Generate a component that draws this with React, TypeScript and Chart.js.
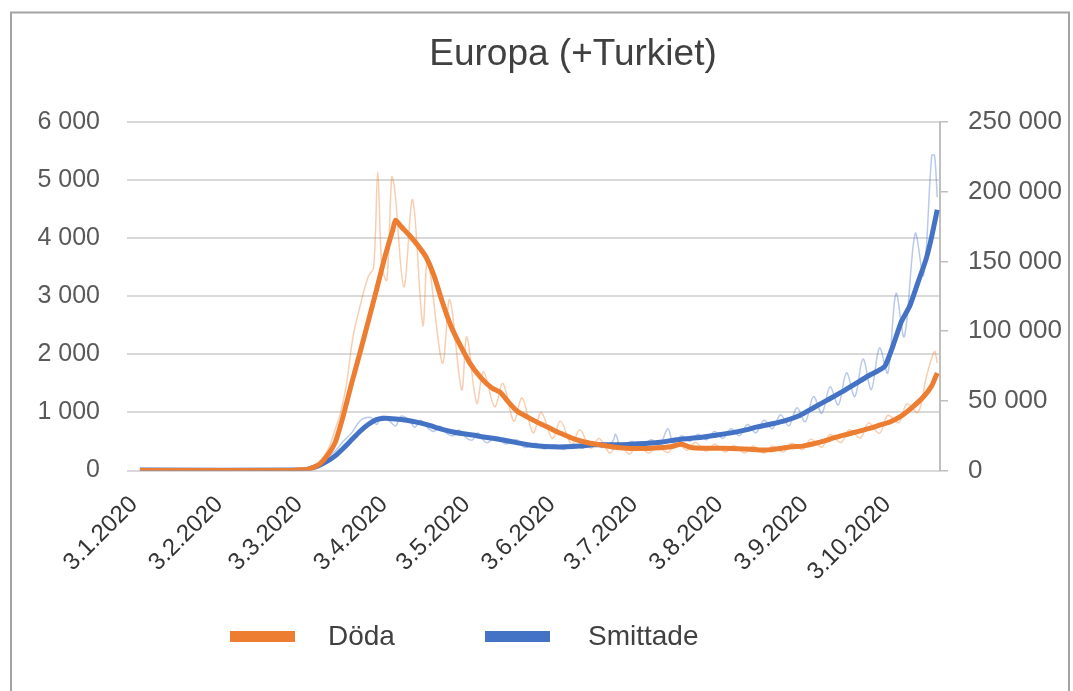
import React, { useEffect, useRef } from 'react';
import { Chart, registerables } from 'chart.js';

Chart.register(...registerables);

// x positions are day offsets counted from 3.1.2020
const tickDays = [0, 31, 60, 91, 121, 152, 182, 213, 244, 274];
const tickLabels = ['3.1.2020', '3.2.2020', '3.3.2020', '3.4.2020', '3.5.2020', '3.6.2020', '3.7.2020', '3.8.2020', '3.9.2020', '3.10.2020'];
const leftTickLabels = ['0', '1 000', '2 000', '3 000', '4 000', '5 000', '6 000'];
const rightTickLabels = ['0', '50 000', '100 000', '150 000', '200 000', '250 000'];

const title = 'Europa (+Turkiet)';
const legendLabels = ['Döda', 'Smittade'];

// Döda – 7-day average (left axis)
const deathsAvgDays = [0, 55, 58, 61, 65, 68, 71, 74, 77, 80, 83, 86, 89, 92, 93, 95, 98, 101, 104, 107, 110, 113, 116, 120, 124, 128, 131, 134, 137, 141, 145, 149, 153, 157, 161, 165, 169, 173, 177, 181, 185, 189, 193, 197, 199, 201, 205, 210, 215, 220, 225, 229, 233, 237, 241, 245, 249, 253, 257, 261, 265, 269, 273, 277, 281, 285, 288, 290];
const deathsAvg = [0, 0, 10, 20, 100, 250, 480, 950, 1500, 2020, 2560, 3100, 3660, 4150, 4310, 4200, 4050, 3880, 3680, 3350, 2900, 2500, 2200, 1850, 1600, 1420, 1350, 1180, 1030, 920, 820, 730, 640, 560, 500, 460, 430, 400, 385, 380, 380, 390, 410, 450, 420, 390, 385, 385, 380, 370, 355, 355, 380, 410, 420, 460, 510, 570, 620, 670, 720, 780, 840, 940, 1090, 1270, 1460, 1680];

// Döda – daily (left axis)
const deathsDailyDays = [0, 58, 62, 65, 67, 69, 71, 73, 75, 77.5, 80, 83, 85, 86.5, 88, 89.8, 91.6, 92.7, 96, 99.2, 102.9, 104.7, 110, 112.7, 117, 118.9, 122.5, 125, 129, 132, 136, 139, 143, 146, 150, 153, 157, 160, 164, 167, 171, 174, 178, 181, 185, 188, 192, 195, 199, 202, 206, 209, 213, 216, 220, 223, 227, 230, 234, 237, 241, 244, 248, 251, 255, 258, 262, 265, 269, 272, 276, 279, 283, 286, 289, 290];
const deathsDaily = [0, 0, 40, 130, 250, 420, 700, 1000, 1450, 2300, 2820, 3330, 3500, 5140, 3500, 3280, 5050, 4830, 3160, 4660, 2500, 3620, 1850, 2940, 1390, 2300, 1160, 1700, 1100, 1500, 850, 1250, 650, 1000, 550, 850, 450, 700, 380, 550, 300, 480, 280, 450, 300, 420, 310, 480, 350, 480, 330, 450, 320, 430, 300, 420, 300, 420, 320, 470, 360, 540, 400, 620, 480, 700, 560, 820, 640, 950, 820, 1150, 1000, 1600, 2050, 1850];

// Smittade – 7-day average (right axis)
const casesAvgDays = [0, 60, 62, 65, 68, 71, 74, 77, 80, 83, 86, 89, 93, 97, 101, 105, 109, 113, 117, 121, 125, 129, 133, 137, 141, 145, 150, 155, 160, 165, 170, 175, 180, 185, 190, 195, 200, 205, 210, 215, 220, 225, 230, 235, 240, 245, 250, 255, 260, 265, 268, 271, 274, 277, 280, 283, 286, 288, 290];
const casesAvg = [300, 300, 1500, 3500, 6500, 10500, 16000, 22000, 28000, 33000, 36500, 37500, 37000, 36000, 34500, 32500, 30000, 28000, 26500, 25500, 24000, 23000, 21500, 20000, 18500, 17500, 17000, 17000, 17500, 18500, 18500, 18500, 19000, 19500, 20500, 22000, 23000, 24000, 25500, 27000, 29000, 31500, 33500, 36000, 39500, 45000, 50500, 56000, 62000, 68000, 71000, 75000, 90000, 107000, 118000, 135000, 152000, 168000, 187000];

// Smittade – daily (right axis)
const casesDailyDays = [0, 60, 62, 65, 68, 71, 74, 77, 79, 81, 84, 86, 88, 91, 93, 95, 98, 100, 102, 105, 107, 109, 112, 114, 116, 119, 121, 123, 126, 130, 133, 137, 140, 144, 147, 151, 154, 158, 161, 165, 168, 172, 173, 175, 179, 182, 186, 189, 192, 194, 197, 200, 203, 206, 209, 212, 215, 218, 221, 224, 227, 230, 233, 236, 239, 242, 245, 248, 251, 254, 257, 260, 263, 266, 269, 272, 275, 278, 282, 285, 288, 289, 290];
const casesDaily = [300, 300, 2000, 5000, 9000, 14000, 21000, 27000, 33000, 37000, 38000, 33000, 39000, 35000, 32000, 39000, 36000, 31000, 36000, 30000, 28000, 32000, 26000, 25000, 29000, 23000, 22000, 27000, 20000, 24000, 19000, 22000, 16500, 19500, 15500, 18500, 15000, 19000, 16000, 20000, 16500, 21000, 26000, 17000, 21000, 17000, 22000, 18000, 30000, 20000, 25000, 21000, 26000, 22000, 28000, 23000, 30000, 25000, 33000, 27000, 36000, 30000, 40000, 32000, 45000, 35000, 53000, 41000, 60000, 47000, 70000, 53000, 80000, 58000, 88000, 70000, 127000, 96000, 170000, 140000, 226000, 226000, 196000];

const ORANGE = '#ED7D31';
const BLUE = '#4472C4';
const FONT = "'Liberation Sans', Arial, sans-serif";

const toPoints = (days: number[], vals: number[]) => days.map((d, i) => ({ x: d, y: vals[i] }));

const decorPlugin = {
  id: 'decor',
  beforeDraw(chart: any) {
    const ctx = chart.ctx;
    ctx.save();
    ctx.fillStyle = '#ffffff';
    ctx.fillRect(0, 0, chart.width, chart.height);
    ctx.restore();
  },
  afterDraw(chart: any) {
    const ctx = chart.ctx;
    ctx.save();
    // outer frame
    ctx.strokeStyle = '#a3a3a3';
    ctx.lineWidth = 2;
    ctx.strokeRect(11, 12.5, 1058, 720);
    // title
    ctx.fillStyle = '#404040';
    ctx.font = `37px ${FONT}`;
    ctx.textAlign = 'center';
    ctx.textBaseline = 'alphabetic';
    ctx.fillText(title, 573, 65);
    // legend
    ctx.font = `28px ${FONT}`;
    ctx.textAlign = 'left';
    ctx.textBaseline = 'middle';
    ctx.fillStyle = ORANGE;
    ctx.fillRect(230, 631, 65, 11);
    ctx.fillStyle = '#404040';
    ctx.fillText(legendLabels[0], 328, 637);
    ctx.fillStyle = BLUE;
    ctx.fillRect(485, 631, 65, 11);
    ctx.fillStyle = '#404040';
    ctx.fillText(legendLabels[1], 588, 637);
    ctx.restore();
  },
};

export default function App() {
  const ref = useRef<HTMLCanvasElement | null>(null);

  useEffect(() => {
    if (!ref.current) return;
    const chart = new Chart(ref.current, {
      type: 'line',
      data: {
        datasets: [
          {
            label: legendLabels[0],
            data: toPoints(deathsAvgDays, deathsAvg),
            borderColor: ORANGE,
            borderWidth: 5,
            pointRadius: 0,
            tension: 0.2,
            yAxisID: 'y',
          },
          {
            label: legendLabels[1],
            data: toPoints(casesAvgDays, casesAvg),
            borderColor: BLUE,
            borderWidth: 5,
            pointRadius: 0,
            tension: 0.2,
            yAxisID: 'y2',
          },
          {
            label: 'Döda (dag)',
            data: toPoints(deathsDailyDays, deathsDaily),
            borderColor: 'rgba(237,125,49,0.38)',
            borderWidth: 1.5,
            pointRadius: 0,
            tension: 0.35,
            yAxisID: 'y',
          },
          {
            label: 'Smittade (dag)',
            data: toPoints(casesDailyDays, casesDaily),
            borderColor: 'rgba(68,114,196,0.38)',
            borderWidth: 1.5,
            pointRadius: 0,
            tension: 0.35,
            yAxisID: 'y2',
          },
        ],
      },
      options: {
        responsive: false,
        animation: false,
        devicePixelRatio: 1,
        layout: { padding: { top: 122, left: 0, right: 0, bottom: 0 } },
        plugins: {
          legend: { display: false },
          title: { display: false },
          tooltip: { enabled: false },
        },
        scales: {
          x: {
            type: 'linear',
            min: -4.7,
            max: 291,
            grid: { display: false, drawTicks: false },
            border: { display: false },
            afterBuildTicks: (s: any) => {
              s.ticks = tickDays.map((v) => ({ value: v }));
            },
            afterFit: (s: any) => {
              s.height = 220.5;
            },
            ticks: {
              autoSkip: false,
              minRotation: 45,
              maxRotation: 45,
              padding: 20,
              labelOffset: -6,
              color: '#333333',
              font: { family: FONT, size: 24 },
              callback: (_v: any, i: number) => tickLabels[i],
            },
          },
          y: {
            position: 'left',
            min: 0,
            max: 6000,
            grid: { color: '#d9d9d9', lineWidth: 2, drawTicks: false },
            border: { display: false },
            afterFit: (s: any) => {
              s.width = 127;
            },
            ticks: {
              stepSize: 1000,
              padding: 27,
              color: '#595959',
              font: { family: FONT, size: 25 },
              callback: (v: any) => leftTickLabels[Math.round(Number(v) / 1000)],
            },
          },
          y2: {
            position: 'right',
            min: 0,
            max: 250000,
            grid: { drawOnChartArea: false, color: '#bfbfbf', lineWidth: 1.5, tickLength: 8 },
            border: { display: true, color: '#bfbfbf', width: 2 },
            afterFit: (s: any) => {
              s.width = 133;
            },
            ticks: {
              stepSize: 50000,
              padding: 20,
              color: '#595959',
              font: { family: FONT, size: 26 },
              callback: (v: any) => rightTickLabels[Math.round(Number(v) / 50000)],
            },
          },
        },
      },
      plugins: [decorPlugin],
    });
    return () => chart.destroy();
  }, []);

  return (
    <div style={{ position: 'fixed', left: 0, top: 0, width: 1073, height: 691, background: '#fff' }}>
      <canvas ref={ref} width={1073} height={691} style={{ display: 'block', width: 1073, height: 691 }} />
    </div>
  );
}
